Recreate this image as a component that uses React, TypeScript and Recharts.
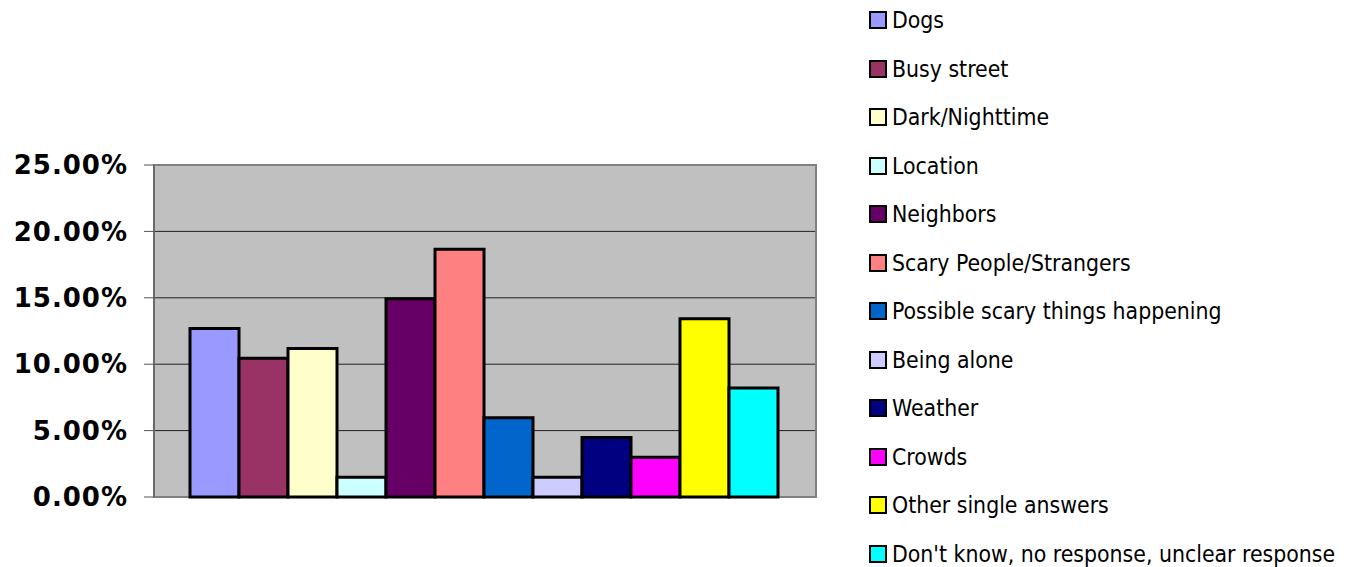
import { BarChart, Bar, XAxis, YAxis, CartesianGrid, ReferenceArea } from "recharts";

const categories = ["Fears"];

const seriesNames = [
  "Dogs",
  "Busy street",
  "Dark/Nighttime",
  "Location",
  "Neighbors",
  "Scary People/Strangers",
  "Possible scary things happening",
  "Being alone",
  "Weather",
  "Crowds",
  "Other single answers",
  "Don't know, no response, unclear response",
];

const seriesValues = [12.69, 10.45, 11.19, 1.49, 14.93, 18.66, 5.97, 1.49, 4.48, 2.99, 13.43, 8.21];

const seriesColors = [
  "#9999FF",
  "#993366",
  "#FFFFCC",
  "#CCFFFF",
  "#660066",
  "#FF8080",
  "#0066CC",
  "#CCCCFF",
  "#000080",
  "#FF00FF",
  "#FFFF00",
  "#00FFFF",
];

const yTicks = [0, 5, 10, 15, 20, 25];

const data = categories.map((c) => {
  const row: Record<string, string | number> = { name: c };
  seriesNames.forEach((s, i) => {
    row[s] = seriesValues[i];
  });
  return row;
});

function LegendList() {
  return (
    <div
      style={{
        position: "absolute",
        left: 869,
        top: -4,
        fontFamily: "'DejaVu Sans Condensed', 'DejaVu Sans', sans-serif",
        fontSize: 22.8,
        color: "#000",
      }}
    >
      {seriesNames.map((s, i) => (
        <div key={s} style={{ display: "flex", alignItems: "center", height: 48.5 }}>
          <span
            style={{
              display: "inline-block",
              width: 14,
              height: 14,
              background: seriesColors[i],
              border: "2px solid #000",
              marginRight: 5,
            }}
          />
          <span style={{ whiteSpace: "nowrap" }}>{s}</span>
        </div>
      ))}
    </div>
  );
}

export default function App() {
  return (
    <div style={{ position: "absolute", left: 0, top: 0, width: 1349, height: 567, background: "#fff" }}>
      <BarChart
        width={1349}
        height={567}
        data={data}
        margin={{ top: 165, right: 533, bottom: 70, left: 0 }}
        barCategoryGap={36}
        barGap={0}
      >
        <CartesianGrid vertical={false} fill="#C0C0C0" stroke="#222" strokeOpacity={1} />
        <XAxis dataKey="name" hide />
        <YAxis
          width={154}
          domain={[0, 25]}
          ticks={yTicks}
          interval={0}
          tickFormatter={(v: number) => `${v.toFixed(2)}%`}
          tickSize={10}
          tickMargin={16}
          axisLine={{ stroke: "#555" }}
          tickLine={{ stroke: "#555" }}
          tick={{
            fill: "#000",
            fontFamily: "'DejaVu Sans', sans-serif",
            fontWeight: "bold",
            fontSize: 26,
            letterSpacing: 1,
          }}
        />
        <ReferenceArea y1={0} y2={25} fill="none" stroke="#808080" strokeWidth={2} ifOverflow="visible" />
        {seriesNames.map((s, i) => (
          <Bar
            key={s}
            dataKey={s}
            fill={seriesColors[i]}
            stroke="#000"
            strokeWidth={3}
            isAnimationActive={false}
          />
        ))}
      </BarChart>
      <LegendList />
    </div>
  );
}
